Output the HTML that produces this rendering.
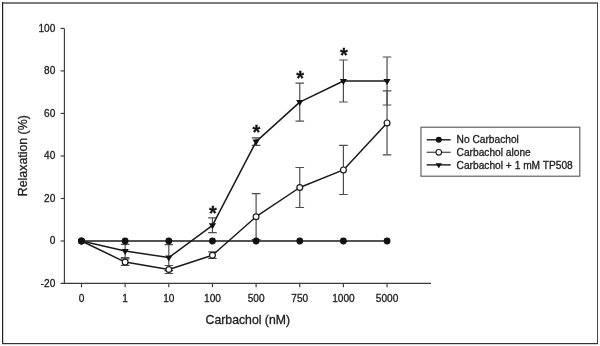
<!DOCTYPE html>
<html><head><meta charset="utf-8"><title>Relaxation vs Carbachol</title>
<style>html,body{margin:0;padding:0;background:#fff;overflow:hidden}body{width:600px;height:346px;position:relative}text{stroke:#222;stroke-width:0.3px}</style></head>
<body>
<svg width="600" height="346" viewBox="0 0 600 346" style="position:absolute;left:0;top:0" font-family="'Liberation Sans', Arial, sans-serif" fill="#222">
<rect x="0" y="0" width="600" height="346" fill="#fff"/>
<rect x="2" y="2" width="596" height="2" fill="#7c7c7c"/>
<rect x="2" y="2" width="1.2" height="342" fill="#222"/>
<rect x="597" y="3" width="1" height="341" fill="#444"/>
<rect x="2" y="343" width="596" height="1.2" fill="#333"/>
<g stroke="#3a3a3a" stroke-width="1.15" fill="none">
<path d="M64.4 28.4V283.4"/>
<path d="M60.6 283.4H431"/>
<path d="M60.6 28.40H64.4"/>
<path d="M60.6 70.92H64.4"/>
<path d="M60.6 113.44H64.4"/>
<path d="M60.6 155.96H64.4"/>
<path d="M60.6 198.48H64.4"/>
<path d="M60.6 241.00H64.4"/>
<path d="M81.50 283.4V287.3"/>
<path d="M125.15 283.4V287.3"/>
<path d="M168.80 283.4V287.3"/>
<path d="M212.45 283.4V287.3"/>
<path d="M256.10 283.4V287.3"/>
<path d="M299.75 283.4V287.3"/>
<path d="M343.40 283.4V287.3"/>
<path d="M387.05 283.4V287.3"/>
</g>
<g font-size="10.1px" text-anchor="end">
<text x="55.3" y="31.70">100</text>
<text x="55.3" y="74.22">80</text>
<text x="55.3" y="116.74">60</text>
<text x="55.3" y="159.26">40</text>
<text x="55.3" y="201.78">20</text>
<text x="55.3" y="244.30">0</text>
<text x="55.3" y="286.82">-20</text>
</g>
<g font-size="10.1px" text-anchor="middle">
<text x="81.50" y="301.6">0</text>
<text x="125.15" y="301.6">1</text>
<text x="168.80" y="301.6">10</text>
<text x="212.45" y="301.6">100</text>
<text x="256.10" y="301.6">500</text>
<text x="299.75" y="301.6">750</text>
<text x="343.40" y="301.6">1000</text>
<text x="387.05" y="301.6">5000</text>
</g>
<text x="247.8" y="324" font-size="12.25px" text-anchor="middle">Carbachol (nM)</text>
<text transform="translate(27.2 155.7) rotate(-90)" font-size="12.35px" text-anchor="middle">Relaxation (%)</text>
<g stroke="#4e4e4e" stroke-width="1.2" fill="none">
<path d="M125.15 258.80V265.40M120.85 258.80H129.45M120.85 265.40H129.45"/>
<path d="M125.15 244.40V257.60M120.85 244.40H129.45M120.85 257.60H129.45"/>
<path d="M168.80 265.50V273.50M164.50 265.50H173.10M164.50 273.50H173.10"/>
<path d="M168.80 244.60V270.60M164.50 244.60H173.10M164.50 270.60H173.10"/>
<path d="M212.45 251.90V258.50M208.15 251.90H216.75M208.15 258.50H216.75"/>
<path d="M212.45 217.90V232.70M208.15 217.90H216.75M208.15 232.70H216.75"/>
<path d="M256.10 193.70V239.70M251.80 193.70H260.40M251.80 239.70H260.40"/>
<path d="M256.10 137.80V145.40M251.80 137.80H260.40M251.80 145.40H260.40"/>
<path d="M299.75 167.50V207.50M295.45 167.50H304.05M295.45 207.50H304.05"/>
<path d="M299.75 83.10V121.10M295.45 83.10H304.05M295.45 121.10H304.05"/>
<path d="M343.40 145.30V194.50M339.10 145.30H347.70M339.10 194.50H347.70"/>
<path d="M343.40 60.00V102.00M339.10 60.00H347.70M339.10 102.00H347.70"/>
<path d="M387.05 90.90V154.90M382.75 90.90H391.35M382.75 154.90H391.35"/>
<path d="M387.05 57.00V105.00M382.75 57.00H391.35M382.75 105.00H391.35"/>
</g>
<g stroke="#1a1a1a" stroke-width="1.5" fill="none" stroke-linejoin="round">
<path d="M81.50 241H387.05"/>
<path d="M81.50 241.00 L125.15 262.10 L168.80 269.50 L212.45 255.20 L256.10 216.70 L299.75 187.50 L343.40 169.90 L387.05 122.90"/>
<path d="M81.50 241.00 L125.15 251.00 L168.80 257.60 L212.45 225.30 L256.10 141.60 L299.75 102.10 L343.40 81.00 L387.05 81.00"/>
</g>
<path d="M77.90 239.00H85.10L81.50 245.00Z" fill="#111"/>
<path d="M121.55 249.00H128.75L125.15 255.00Z" fill="#111"/>
<path d="M165.20 255.60H172.40L168.80 261.60Z" fill="#111"/>
<path d="M208.85 223.30H216.05L212.45 229.30Z" fill="#111"/>
<path d="M252.50 139.60H259.70L256.10 145.60Z" fill="#111"/>
<path d="M296.15 100.10H303.35L299.75 106.10Z" fill="#111"/>
<path d="M339.80 79.00H347.00L343.40 85.00Z" fill="#111"/>
<path d="M383.45 79.00H390.65L387.05 85.00Z" fill="#111"/>
<circle cx="81.50" cy="241.00" r="2.9" fill="#fff" stroke="#1a1a1a" stroke-width="1.2"/>
<circle cx="125.15" cy="262.10" r="2.9" fill="#fff" stroke="#1a1a1a" stroke-width="1.2"/>
<circle cx="168.80" cy="269.50" r="2.9" fill="#fff" stroke="#1a1a1a" stroke-width="1.2"/>
<circle cx="212.45" cy="255.20" r="2.9" fill="#fff" stroke="#1a1a1a" stroke-width="1.2"/>
<circle cx="256.10" cy="216.70" r="2.9" fill="#fff" stroke="#1a1a1a" stroke-width="1.2"/>
<circle cx="299.75" cy="187.50" r="2.9" fill="#fff" stroke="#1a1a1a" stroke-width="1.2"/>
<circle cx="343.40" cy="169.90" r="2.9" fill="#fff" stroke="#1a1a1a" stroke-width="1.2"/>
<circle cx="387.05" cy="122.90" r="2.9" fill="#fff" stroke="#1a1a1a" stroke-width="1.2"/>
<circle cx="81.50" cy="241" r="3.4" fill="#111"/>
<circle cx="125.15" cy="241" r="3.4" fill="#111"/>
<circle cx="168.80" cy="241" r="3.4" fill="#111"/>
<circle cx="212.45" cy="241" r="3.4" fill="#111"/>
<circle cx="256.10" cy="241" r="3.4" fill="#111"/>
<circle cx="299.75" cy="241" r="3.4" fill="#111"/>
<circle cx="343.40" cy="241" r="3.4" fill="#111"/>
<circle cx="387.05" cy="241" r="3.4" fill="#111"/>
<text x="212.85" y="219.50" font-size="20px" font-weight="bold" text-anchor="middle" fill="#111">*</text>
<text x="256.50" y="138.90" font-size="20px" font-weight="bold" text-anchor="middle" fill="#111">*</text>
<text x="300.15" y="85.20" font-size="20px" font-weight="bold" text-anchor="middle" fill="#111">*</text>
<text x="343.80" y="61.70" font-size="20px" font-weight="bold" text-anchor="middle" fill="#111">*</text>
<rect x="421" y="127.2" width="158.8" height="49" fill="#fff" stroke="#555" stroke-width="1.1"/>
<path d="M426.7 139.8H450.7" stroke="#1a1a1a" stroke-width="1.4"/>
<path d="M426.7 152.3H450.7" stroke="#555" stroke-width="1.3"/>
<path d="M426.7 164.9H450.7" stroke="#1a1a1a" stroke-width="1.4"/>
<circle cx="438.8" cy="139.8" r="3.0" fill="#111"/>
<circle cx="438.8" cy="152.3" r="2.8" fill="#fff" stroke="#1a1a1a" stroke-width="1.1"/>
<path d="M435.60 163.17H442.00L438.80 168.37Z" fill="#111"/>
<g font-size="10.2px">
<text x="456.6" y="143.40">No Carbachol</text>
<text x="456.6" y="155.90">Carbachol alone</text>
<text x="456.6" y="168.50">Carbachol + 1 mM TP508</text>
</g>
</svg>
</body></html>
